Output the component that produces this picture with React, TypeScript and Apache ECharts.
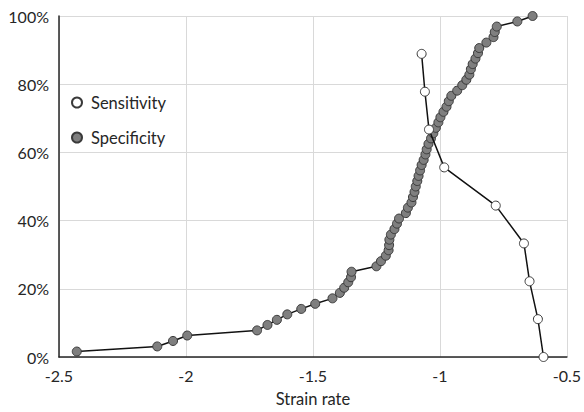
import React, { useEffect, useRef } from "react";
import * as echarts from "echarts";

const xTicks = [-2.5, -2, -1.5, -1, -0.5];
const yTicks = [0, 20, 40, 60, 80, 100];

const sensitivityX = [-1.072, -1.059, -1.043, -0.983, -0.78, -0.669, -0.647, -0.614, -0.592];
const sensitivityY = [88.9, 77.8, 66.7, 55.6, 44.4, 33.3, 22.2, 11.1, 0];

const specificityX = [
  -2.43, -2.113, -2.051, -1.995, -1.72, -1.679, -1.642, -1.601, -1.546, -1.491,
  -1.423, -1.394, -1.377, -1.361, -1.35, -1.348, -1.25, -1.232, -1.213, -1.202,
  -1.2, -1.199, -1.193, -1.179, -1.169, -1.161, -1.134, -1.126, -1.112, -1.106,
  -1.1, -1.095, -1.089, -1.084, -1.078, -1.072, -1.064, -1.057, -1.052, -1.045,
  -1.035, -1.026, -1.016, -1.006, -0.998, -0.986, -0.974, -0.965, -0.955, -0.932,
  -0.912, -0.896, -0.884, -0.878, -0.871, -0.86, -0.85, -0.845, -0.817, -0.789,
  -0.784, -0.776, -0.695, -0.635,
];
const specificityY = [
  1.6, 3.1, 4.7, 6.3, 7.8, 9.4, 10.9, 12.5, 14.1, 15.6,
  17.2, 18.8, 20.3, 21.9, 23.4, 25.0, 26.6, 28.1, 29.7, 31.3,
  32.8, 34.4, 35.9, 37.5, 39.1, 40.6, 42.2, 43.8, 45.3, 46.9,
  48.4, 50.0, 51.6, 53.1, 54.7, 56.3, 57.8, 59.4, 60.9, 62.5,
  64.1, 65.6, 67.2, 68.8, 70.3, 71.9, 73.4, 75.0, 76.6, 78.1,
  79.7, 81.3, 82.8, 84.4, 85.9, 87.5, 89.1, 90.6, 92.2, 93.8,
  95.3, 96.9, 98.4, 100,
];

const FONT = "Lato";

export default function App() {
  const ref = useRef<HTMLDivElement>(null);
  useEffect(() => {
    if (!ref.current) return;
    const chart = echarts.init(ref.current, null, { renderer: "svg" });
    const sens = sensitivityX.map((x, i) => [x, sensitivityY[i]]);
    const spec = specificityX.map((x, i) => [x, specificityY[i]]);
    chart.setOption({
      animation: false,
      backgroundColor: "#ffffff",
      textStyle: { fontFamily: FONT },
      grid: { left: 59, right: 17, top: 16, bottom: 53, containLabel: false },
      legend: {
        orient: "vertical",
        left: 66,
        top: 89,
        padding: 5,
        itemGap: 18,
        itemWidth: 10,
        itemHeight: 10,
        textStyle: { fontFamily: FONT, fontSize: 16.5, color: "#262626", padding: [0, 0, 0, 4] },
        data: [
          { name: "Sensitivity", icon: "circle" },
          { name: "Specificity", icon: "circle" },
        ],
      },
      xAxis: {
        type: "value",
        min: xTicks[0],
        max: xTicks[xTicks.length - 1],
        interval: 0.5,
        name: "Strain rate",
        nameLocation: "middle",
        nameGap: 33,
        nameTextStyle: { fontFamily: FONT, fontSize: 16.5, color: "#262626" },
        axisLine: { show: true, onZero: false, lineStyle: { color: "#262626", width: 1.5 } },
        axisTick: { show: false },
        axisLabel: { fontFamily: FONT, fontSize: 16, color: "#262626", margin: 10 },
        splitLine: { show: true, lineStyle: { color: "#d9d9d9", width: 1 } },
      },
      yAxis: {
        type: "value",
        min: yTicks[0],
        max: yTicks[yTicks.length - 1],
        interval: 20,
        axisLine: { show: true, lineStyle: { color: "#262626", width: 1.5 } },
        axisTick: { show: false },
        axisLabel: {
          fontFamily: FONT,
          fontSize: 16,
          color: "#262626",
          margin: 10,
          formatter: (v: number) => `${v}%`,
        },
        splitLine: { show: true, lineStyle: { color: "#d9d9d9", width: 1 } },
      },
      series: [
        {
          name: "Sensitivity",
          type: "line",
          data: sens,
          z: 3,
          symbol: "circle",
          symbolSize: 9,
          showAllSymbol: true,
          lineStyle: { color: "#111111", width: 1.5 },
          itemStyle: { color: "#ffffff", borderColor: "#3a3a3a", borderWidth: 1 },
        },
        {
          name: "Specificity",
          type: "line",
          data: spec,
          z: 2,
          symbol: "circle",
          symbolSize: 9,
          showAllSymbol: true,
          lineStyle: { color: "#111111", width: 1.5 },
          itemStyle: { color: "#7f7f7f", borderColor: "#3a3a3a", borderWidth: 1 },
        },
      ],
    });
    return () => chart.dispose();
  }, []);
  return (
    <div
      ref={ref}
      style={{ position: "absolute", left: 0, top: 0, width: 584, height: 412 }}
    />
  );
}
